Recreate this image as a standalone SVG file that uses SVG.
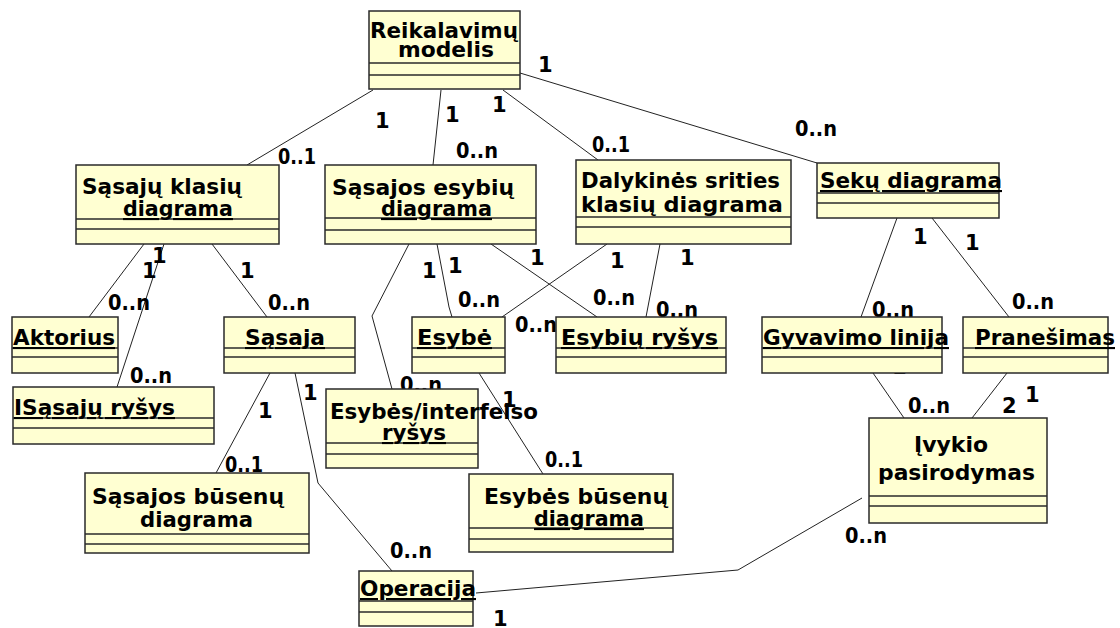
<svg xmlns="http://www.w3.org/2000/svg" width="1120" height="628" viewBox="0 0 1120 628">
<style>
.box{fill:#FFFFD2;stroke:#2a2a2a;stroke-width:1.5}
.dv{stroke:#2a2a2a;stroke-width:1.5}
.nm{font-family:"DejaVu Sans","Liberation Sans",sans-serif;font-weight:bold;font-size:21px;fill:#000}
.u{text-decoration:underline}
.c{fill:none;stroke:#222;stroke-width:1}
.lb{font-family:"DejaVu Sans","Liberation Sans",sans-serif;font-weight:bold;font-size:21px;fill:#000}
</style>
<rect width="1120" height="628" fill="#fff"/>
<g id="connectors">
<path class="c" d="M373,90 L247,165"/>
<path class="c" d="M441,90 L433,165"/>
<path class="c" d="M503,90 L598,160"/>
<path class="c" d="M520,73 L817,163"/>
<path class="c" d="M144,244 L89,317"/>
<path class="c" d="M164,244 L117,387"/>
<path class="c" d="M212,244 L267,317"/>
<path class="c" d="M409,244 L372,316 L392,389"/>
<path class="c" d="M437,244 L449,307 L452,317"/>
<path class="c" d="M491,244 L597,317"/>
<path class="c" d="M607,244 L502,317"/>
<path class="c" d="M660,244 L646,317"/>
<path class="c" d="M897,218 L861,317"/>
<path class="c" d="M932,218 L1009,317"/>
<path class="c" d="M873,373 L904,418"/>
<path class="c" d="M1007,373 L972,418"/>
<path class="c" d="M862,498 L738,570 L476,593"/>
<path class="c" d="M270,373 L216,473"/>
<path class="c" d="M295,373 L318,483 L392,571"/>
<path class="c" d="M479,373 L543,474"/>
<text class="lb" x="375" y="128">1</text>
<text class="lb" x="278" y="164" textLength="38" lengthAdjust="spacingAndGlyphs">0..1</text>
<text class="lb" x="445" y="122">1</text>
<text class="lb" x="456" y="158" textLength="42" lengthAdjust="spacingAndGlyphs">0..n</text>
<text class="lb" x="492" y="112">1</text>
<text class="lb" x="592" y="152" textLength="38" lengthAdjust="spacingAndGlyphs">0..1</text>
<text class="lb" x="538" y="72">1</text>
<text class="lb" x="795" y="136" textLength="42" lengthAdjust="spacingAndGlyphs">0..n</text>
<text class="lb" x="142" y="278">1</text>
<text class="lb" x="108" y="310" textLength="42" lengthAdjust="spacingAndGlyphs">0..n</text>
<text class="lb" x="152" y="263">1</text>
<text class="lb" x="130" y="383" textLength="42" lengthAdjust="spacingAndGlyphs">0..n</text>
<text class="lb" x="240" y="278">1</text>
<text class="lb" x="268" y="310" textLength="42" lengthAdjust="spacingAndGlyphs">0..n</text>
<text class="lb" x="422" y="278">1</text>
<text class="lb" x="400" y="392" textLength="42" lengthAdjust="spacingAndGlyphs">0..n</text>
<text class="lb" x="448" y="273">1</text>
<text class="lb" x="458" y="307" textLength="42" lengthAdjust="spacingAndGlyphs">0..n</text>
<text class="lb" x="530" y="265">1</text>
<text class="lb" x="593" y="305" textLength="42" lengthAdjust="spacingAndGlyphs">0..n</text>
<text class="lb" x="610" y="268">1</text>
<text class="lb" x="515" y="332" textLength="42" lengthAdjust="spacingAndGlyphs">0..n</text>
<text class="lb" x="680" y="265">1</text>
<text class="lb" x="656" y="317" textLength="42" lengthAdjust="spacingAndGlyphs">0..n</text>
<text class="lb" x="913" y="244">1</text>
<text class="lb" x="872" y="317" textLength="42" lengthAdjust="spacingAndGlyphs">0..n</text>
<text class="lb" x="965" y="250">1</text>
<text class="lb" x="1012" y="309" textLength="42" lengthAdjust="spacingAndGlyphs">0..n</text>
<text class="lb" x="892" y="374">1</text>
<text class="lb" x="908" y="413" textLength="42" lengthAdjust="spacingAndGlyphs">0..n</text>
<text class="lb" x="1002" y="413">2</text>
<text class="lb" x="1025" y="402">1</text>
<text class="lb" x="845" y="543" textLength="42" lengthAdjust="spacingAndGlyphs">0..n</text>
<text class="lb" x="493" y="626">1</text>
<text class="lb" x="258" y="418">1</text>
<text class="lb" x="225" y="472" textLength="38" lengthAdjust="spacingAndGlyphs">0..1</text>
<text class="lb" x="303" y="400">1</text>
<text class="lb" x="390" y="558" textLength="42" lengthAdjust="spacingAndGlyphs">0..n</text>
<text class="lb" x="502" y="407">1</text>
<text class="lb" x="545" y="467" textLength="38" lengthAdjust="spacingAndGlyphs">0..1</text>
</g>
<g id="reikalavimu-modelis">
<rect class="box" x="369" y="11" width="151" height="78"/>
<line class="dv" x1="369" y1="63" x2="520" y2="63"/><line class="dv" x1="369" y1="75" x2="520" y2="75"/>
<text class="nm" x="370" y="38" textLength="148" lengthAdjust="spacingAndGlyphs">Reikalavimų</text>
<text class="nm" x="398" y="57" textLength="96" lengthAdjust="spacingAndGlyphs">modelis</text>
</g>
<g id="sasaju-klasiu-diagrama">
<rect class="box" x="76" y="165" width="203" height="79"/>
<line class="dv" x1="76" y1="219" x2="279" y2="219"/><line class="dv" x1="76" y1="229" x2="279" y2="229"/>
<text class="nm" x="82" y="194" textLength="160" lengthAdjust="spacingAndGlyphs">Sąsajų klasių</text>
<text class="nm u" x="123" y="216" textLength="110" lengthAdjust="spacingAndGlyphs">diagrama</text>
</g>
<g id="sasajos-esybiu-diagrama">
<rect class="box" x="325" y="165" width="211" height="79"/>
<line class="dv" x1="325" y1="218" x2="536" y2="218"/><line class="dv" x1="325" y1="230" x2="536" y2="230"/>
<text class="nm" x="332" y="195" textLength="182" lengthAdjust="spacingAndGlyphs">Sąsajos esybių</text>
<text class="nm u" x="381" y="216" textLength="111" lengthAdjust="spacingAndGlyphs">diagrama</text>
</g>
<g id="dalykines-srities-klasiu-diagrama">
<rect class="box" x="576" y="160" width="215" height="84"/>
<line class="dv" x1="576" y1="217" x2="791" y2="217"/><line class="dv" x1="576" y1="227" x2="791" y2="227"/>
<text class="nm" x="581" y="188" textLength="199" lengthAdjust="spacingAndGlyphs">Dalykinės srities</text>
<text class="nm" x="581" y="212" textLength="202" lengthAdjust="spacingAndGlyphs">klasių diagrama</text>
</g>
<g id="seku-diagrama">
<rect class="box" x="817" y="163" width="182" height="55"/>
<line class="dv" x1="817" y1="193" x2="999" y2="193"/><line class="dv" x1="817" y1="203" x2="999" y2="203"/>
<text class="nm u" x="820" y="188" textLength="182" lengthAdjust="spacingAndGlyphs">Sekų diagrama</text>
</g>
<g id="aktorius">
<rect class="box" x="12" y="317" width="106" height="56"/>
<line class="dv" x1="12" y1="348" x2="118" y2="348"/><line class="dv" x1="12" y1="357" x2="118" y2="357"/>
<text class="nm u" x="13" y="345" textLength="102" lengthAdjust="spacingAndGlyphs">Aktorius</text>
</g>
<g id="isasaju-rysys">
<rect class="box" x="13" y="387" width="201" height="57"/>
<line class="dv" x1="13" y1="418" x2="214" y2="418"/><line class="dv" x1="13" y1="428" x2="214" y2="428"/>
<text class="nm u" x="14" y="415" textLength="161" lengthAdjust="spacingAndGlyphs">ISąsajų ryšys</text>
</g>
<g id="sasaja">
<rect class="box" x="224" y="317" width="131" height="56"/>
<line class="dv" x1="224" y1="348" x2="355" y2="348"/><line class="dv" x1="224" y1="357" x2="355" y2="357"/>
<text class="nm u" x="245" y="345" textLength="80" lengthAdjust="spacingAndGlyphs">Sąsaja</text>
</g>
<g id="esybe">
<rect class="box" x="412" y="317" width="93" height="56"/>
<line class="dv" x1="412" y1="348" x2="505" y2="348"/><line class="dv" x1="412" y1="357" x2="505" y2="357"/>
<text class="nm u" x="417" y="345" textLength="75" lengthAdjust="spacingAndGlyphs">Esybė</text>
</g>
<g id="esybiu-rysys">
<rect class="box" x="556" y="317" width="170" height="56"/>
<line class="dv" x1="556" y1="348" x2="726" y2="348"/><line class="dv" x1="556" y1="357" x2="726" y2="357"/>
<text class="nm u" x="561" y="345" textLength="157" lengthAdjust="spacingAndGlyphs">Esybių ryšys</text>
</g>
<g id="esybes-interfeiso-rysys">
<rect class="box" x="326" y="389" width="152" height="79"/>
<line class="dv" x1="326" y1="443" x2="478" y2="443"/><line class="dv" x1="326" y1="454" x2="478" y2="454"/>
<text class="nm" x="330" y="419" textLength="208" lengthAdjust="spacingAndGlyphs">Esybės/interfeiso</text>
<text class="nm u" x="382" y="440" textLength="64" lengthAdjust="spacingAndGlyphs">ryšys</text>
</g>
<g id="gyvavimo-linija">
<rect class="box" x="762" y="317" width="180" height="56"/>
<line class="dv" x1="762" y1="348" x2="942" y2="348"/><line class="dv" x1="762" y1="357" x2="942" y2="357"/>
<text class="nm u" x="763" y="345" textLength="186" lengthAdjust="spacingAndGlyphs">Gyvavimo linija</text>
</g>
<g id="pranesimas">
<rect class="box" x="963" y="317" width="145" height="56"/>
<line class="dv" x1="963" y1="348" x2="1108" y2="348"/><line class="dv" x1="963" y1="357" x2="1108" y2="357"/>
<text class="nm u" x="975" y="345" textLength="140" lengthAdjust="spacingAndGlyphs">Pranešimas</text>
</g>
<g id="ivykio-pasirodymas">
<rect class="box" x="869" y="418" width="178" height="105"/>
<line class="dv" x1="869" y1="496" x2="1047" y2="496"/><line class="dv" x1="869" y1="506" x2="1047" y2="506"/>
<text class="nm" x="914" y="452" textLength="74" lengthAdjust="spacingAndGlyphs">Įvykio</text>
<text class="nm" x="878" y="480" textLength="157" lengthAdjust="spacingAndGlyphs">pasirodymas</text>
</g>
<g id="sasajos-busenu-diagrama">
<rect class="box" x="85" y="473" width="224" height="80"/>
<line class="dv" x1="85" y1="534" x2="309" y2="534"/><line class="dv" x1="85" y1="544" x2="309" y2="544"/>
<text class="nm" x="92" y="504" textLength="192" lengthAdjust="spacingAndGlyphs">Sąsajos būsenų</text>
<text class="nm" x="140" y="527" textLength="113" lengthAdjust="spacingAndGlyphs">diagrama</text>
</g>
<g id="esybes-busenu-diagrama">
<rect class="box" x="469" y="474" width="204" height="78"/>
<line class="dv" x1="469" y1="528" x2="673" y2="528"/><line class="dv" x1="469" y1="539" x2="673" y2="539"/>
<text class="nm" x="484" y="504" textLength="184" lengthAdjust="spacingAndGlyphs">Esybės būsenų</text>
<text class="nm u" x="534" y="526" textLength="110" lengthAdjust="spacingAndGlyphs">diagrama</text>
</g>
<g id="operacija">
<rect class="box" x="359" y="571" width="114" height="55"/>
<line class="dv" x1="359" y1="601" x2="473" y2="601"/><line class="dv" x1="359" y1="612" x2="473" y2="612"/>
<text class="nm u" x="360" y="596" textLength="116" lengthAdjust="spacingAndGlyphs">Operacija</text>
</g>
</svg>
